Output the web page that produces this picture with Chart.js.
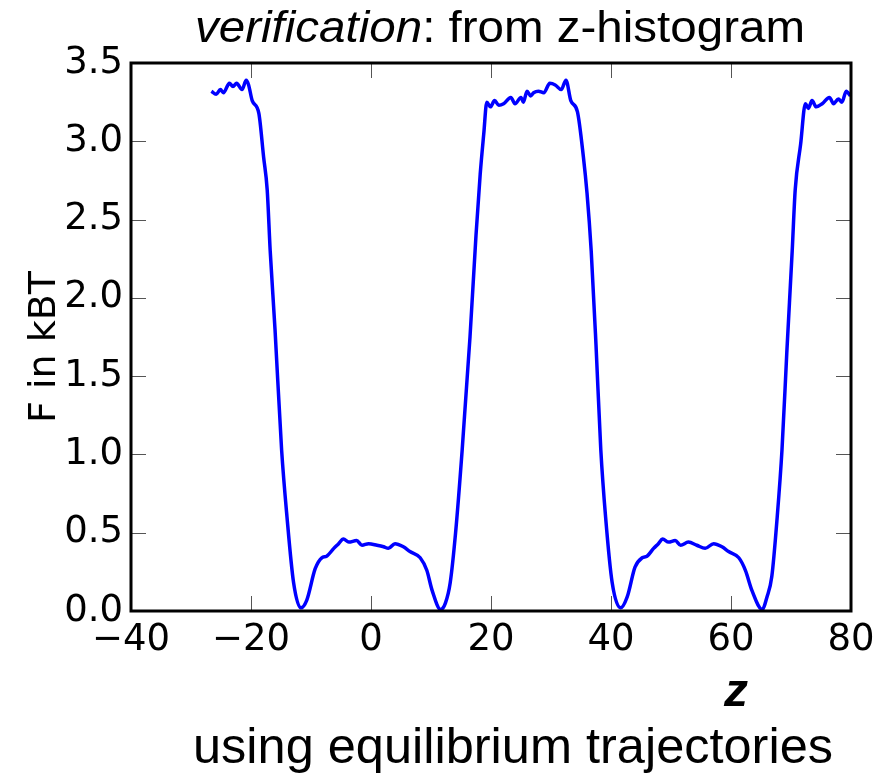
<!DOCTYPE html>
<html lang="en">
<head>
    <meta charset="UTF-8">
    <title>verification: from z-histogram</title>
    <script src="https://cdn.jsdelivr.net/npm/chart.js@4.4.1/dist/chart.umd.min.js"></script>
    <style>
        html, body { margin: 0; padding: 0; background: #fff; }
        .wrap { width: 895px; height: 780px; }
    </style>
</head>
<body>
    <div class="wrap"><canvas id="freeEnergy" width="895" height="780"></canvas></div>
    <script>
        // values: z position and free energy F (kBT)
        var zValues = [
            -26.6, -25.8, -25.1, -24.6, -23.6, -23.0, -22.4, -21.5, -20.8, -20.4,
            -19.8, -18.7, -17.9, -17.3, -16.8, -16.0, -14.9, -14.0, -12.9, -11.7,
            -10.7, -9.3, -8.2, -7.4, -6.2, -5.4, -4.6, -3.7, -2.4, -1.5,
            -0.4, 1.0, 2.1, 2.9, 4.0, 5.4, 6.5, 8.2, 9.3, 10.2,
            11.6, 12.4, 13.2, 14.1, 15.2, 16.5, 17.5, 18.2, 18.8, 19.3,
            19.9, 20.6, 21.3, 22.1, 23.3, 24.0, 25.0, 25.4, 26.0, 26.6,
            27.1, 27.9, 28.8, 29.8, 30.7, 31.7, 32.5, 33.3, 34.4, 35.4,
            36.0, 36.7, 37.5, 38.3, 39.1, 40.2, 41.6, 42.7, 44.0, 45.2,
            46.0, 47.1, 47.9, 48.6, 49.6, 50.7, 51.6, 52.9, 54.3, 55.7,
            57.1, 58.5, 59.6, 61.3, 62.4, 63.5, 65.2, 66.0, 66.8, 67.7,
            68.5, 69.3, 70.2, 70.7, 71.6, 72.4, 72.9, 73.5, 74.2, 75.2,
            76.4, 77.1, 77.9, 78.5, 79.2, 79.9
        ];
        var fValues = [
            3.32, 3.30, 3.33, 3.31, 3.37, 3.35, 3.37, 3.33, 3.39, 3.36,
            3.26, 3.18, 2.90, 2.69, 2.30, 1.80, 1.03, 0.60, 0.18, 0.02,
            0.07, 0.27, 0.34, 0.35, 0.40, 0.43, 0.46, 0.44, 0.45, 0.42,
            0.43, 0.42, 0.41, 0.40, 0.43, 0.41, 0.38, 0.34, 0.26, 0.13,
            0.01, 0.05, 0.18, 0.50, 1.03, 1.75, 2.40, 2.79, 3.05, 3.25,
            3.22, 3.26, 3.23, 3.24, 3.28, 3.24, 3.28, 3.25, 3.32, 3.29,
            3.31, 3.32, 3.31, 3.37, 3.36, 3.33, 3.39, 3.26, 3.19, 2.90,
            2.67, 2.30, 1.70, 1.03, 0.60, 0.18, 0.02, 0.09, 0.28, 0.34,
            0.35, 0.40, 0.43, 0.46, 0.44, 0.45, 0.42, 0.44, 0.42, 0.40,
            0.43, 0.41, 0.38, 0.34, 0.26, 0.13, 0.01, 0.09, 0.22, 0.60,
            1.03, 1.65, 2.30, 2.69, 2.98, 3.24, 3.21, 3.26, 3.22, 3.24,
            3.28, 3.24, 3.27, 3.25, 3.32, 3.29
        ];
        var xTicks = [-40, -20, 0, 20, 40, 60, 80];
        var yTicks = [0.0, 0.5, 1.0, 1.5, 2.0, 2.5, 3.0, 3.5];

        var points = zValues.map(function (z, i) { return { x: z, y: fValues[i] }; });
        var sans = "'Liberation Sans', Arial, sans-serif";
        var dejavu = "'DejaVu Sans', sans-serif";

        // draw a run of [text, font] pieces stretched to a given total width
        function fitText(ctx, parts, cx, baseline, width) {
            var total = 0;
            parts.forEach(function (p) { ctx.font = p[1]; total += ctx.measureText(p[0]).width; });
            var k = width / total;
            ctx.save();
            ctx.translate(cx - width / 2, baseline);
            ctx.scale(k, 1);
            ctx.textAlign = 'left';
            var x = 0;
            parts.forEach(function (p) {
                ctx.font = p[1];
                ctx.fillText(p[0], x, 0);
                x += ctx.measureText(p[0]).width;
            });
            ctx.restore();
        }

        // frame, inward tick marks and the extra texts
        var decorations = {
            id: 'decorations',
            afterDraw: function (chart) {
                var ctx = chart.ctx;
                var a = chart.chartArea;
                var xs = chart.scales.x, ys = chart.scales.y;
                ctx.save();
                ctx.strokeStyle = '#555';
                ctx.lineWidth = 1;
                ctx.beginPath();
                xTicks.slice(1, -1).forEach(function (v) {
                    var px = Math.round(xs.getPixelForValue(v)) + 0.5;
                    ctx.moveTo(px, a.bottom); ctx.lineTo(px, a.bottom - 15);
                    ctx.moveTo(px, a.top); ctx.lineTo(px, a.top + 15);
                });
                yTicks.slice(1, -1).forEach(function (v) {
                    var py = Math.round(ys.getPixelForValue(v)) + 0.5;
                    ctx.moveTo(a.left, py); ctx.lineTo(a.left + 15, py);
                    ctx.moveTo(a.right, py); ctx.lineTo(a.right - 15, py);
                });
                ctx.stroke();

                ctx.strokeStyle = '#000';
                ctx.lineWidth = 3;
                ctx.strokeRect(a.left, a.top, a.right - a.left, a.bottom - a.top);

                ctx.fillStyle = '#000';
                ctx.textBaseline = 'alphabetic';
                fitText(ctx, [['verification', 'italic 45px ' + sans], [': from z-histogram', '45px ' + sans]], 500, 42, 610);
                fitText(ctx, [['z', 'bold italic 46px ' + sans]], 736, 706, 24);
                fitText(ctx, [['using equilibrium trajectories', '50px ' + sans]], 513, 763, 640);

                ctx.translate(55, 347);
                ctx.rotate(-Math.PI / 2);
                ctx.textAlign = 'center';
                ctx.font = '38px ' + dejavu;
                ctx.fillText('F in kBT', 0, 0);
                ctx.restore();
            }
        };

        new Chart(document.getElementById('freeEnergy'), {
            type: 'scatter',
            data: {
                datasets: [{
                    label: 'F',
                    data: points,
                    showLine: true,
                    borderColor: '#0000ff',
                    borderWidth: 3.5,
                    pointRadius: 0,
                    cubicInterpolationMode: 'monotone',
                    fill: false
                }]
            },
            options: {
                responsive: false,
                animation: false,
                layout: { padding: { top: 63, right: 44, left: 0, bottom: 0 } },
                plugins: { legend: { display: false }, tooltip: { enabled: false } },
                scales: {
                    x: {
                        type: 'linear', min: -40, max: 80,
                        afterBuildTicks: function (s) { s.ticks = xTicks.map(function (v) { return { value: v }; }); },
                        afterFit: function (s) { s.height = 169; },
                        grid: { display: false, drawTicks: false },
                        border: { display: false },
                        ticks: {
                            padding: 7, color: '#000', maxRotation: 0,
                            font: { family: dejavu, size: 37 },
                            callback: function (v) { return v < 0 ? '\u2212' + Math.abs(v) : String(v); }
                        }
                    },
                    y: {
                        type: 'linear', min: 0, max: 3.5,
                        afterBuildTicks: function (s) { s.ticks = yTicks.map(function (v) { return { value: v }; }); },
                        afterFit: function (s) { s.width = 131; },
                        grid: { display: false, drawTicks: false },
                        border: { display: false },
                        ticks: {
                            padding: 8, color: '#000',
                            font: { family: dejavu, size: 37 },
                            callback: function (v) { return Number(v).toFixed(1); }
                        }
                    }
                }
            },
            plugins: [decorations]
        });
    </script>
</body>
</html>
